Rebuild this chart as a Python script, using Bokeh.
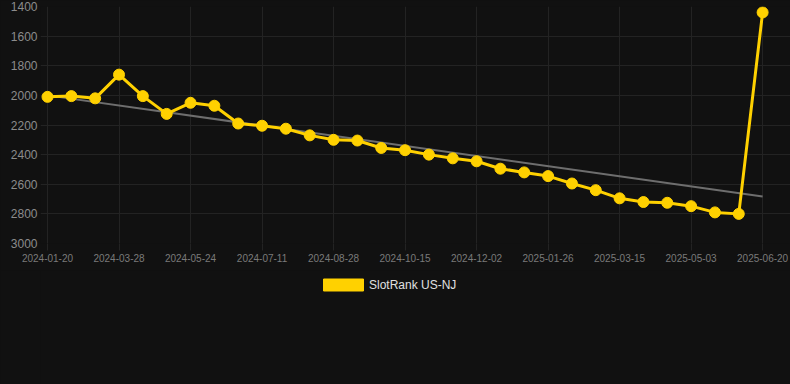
from bokeh.plotting import figure
from bokeh.layouts import column
from bokeh.models import (ColumnDataSource, Range1d, FixedTicker, Legend, LegendItem)
from bokeh.embed import file_html
from bokeh.resources import INLINE

# ---- data ----
tick_dates = ["2024-01-20", "2024-03-28", "2024-05-24", "2024-07-11", "2024-08-28",
              "2024-10-15", "2024-12-02", "2025-01-26", "2025-03-15", "2025-05-03",
              "2025-06-20"]
rank_values = [2010, 2005, 2020, 1860, 2005, 2125, 2050, 2070, 2190, 2205,
               2225, 2270, 2300, 2305, 2355, 2370, 2400, 2425, 2445, 2495,
               2520, 2545, 2595, 2640, 2695, 2720, 2725, 2748, 2790, 2800,
               1440]
trend_values = [2000, 2683]
y_ticks = [1400, 1600, 1800, 2000, 2200, 2400, 2600, 2800, 3000]
series_name = "SlotRank US-NJ"

BG = "#111111"
GRID = "#232323"
YELLOW = "#FFD100"
FONT = "Liberation Sans"

n = len(rank_values)
idx = list(range(n))
step = (n - 1) // (len(tick_dates) - 1)
tick_pos = [i * step for i in range(len(tick_dates))]

p = figure(width=790, height=270, output_backend="svg", toolbar_location=None,
           x_range=Range1d(-0.294, n - 1 + 1.17), y_range=Range1d(3000, 1400),
           min_border_left=40, min_border_right=0, min_border_top=6,
           min_border_bottom=27)
p.background_fill_color = BG
p.border_fill_color = BG
p.outline_line_color = None

src = ColumnDataSource(dict(x=idx, y=rank_values))
tsrc = ColumnDataSource(dict(x=[0, n - 1], y=trend_values))

p.line("x", "y", source=tsrc, line_color="#6e6e6e", line_width=2)
p.line("x", "y", source=src, line_color=YELLOW, line_width=3)
p.scatter("x", "y", source=src, size=11, fill_color=YELLOW, line_color=YELLOW)

# axes
p.xaxis.ticker = FixedTicker(ticks=tick_pos)
p.xaxis.major_label_overrides = {pos: d for pos, d in zip(tick_pos, tick_dates)}
p.yaxis.ticker = FixedTicker(ticks=y_ticks)
for ax in (p.xaxis[0], p.yaxis[0]):
    ax.axis_line_color = None
    ax.minor_tick_line_color = None
    ax.major_label_text_font = FONT
p.xaxis.major_tick_line_color = GRID
p.xaxis.major_tick_out = 7
p.xaxis.major_tick_in = 0
p.xaxis.major_label_standoff = 3
p.xaxis.major_label_text_font_size = "10px"
p.xaxis.major_label_text_color = "#7a7a7a"
p.yaxis.major_tick_line_color = None
p.yaxis.major_tick_out = 0
p.yaxis.major_tick_in = 0
p.yaxis.major_label_standoff = 3
p.yaxis.major_label_text_font_size = "12px"
p.yaxis.major_label_text_color = "#8c8c8c"

p.xgrid.ticker = FixedTicker(ticks=tick_pos)
p.ygrid.ticker = FixedTicker(ticks=y_ticks)
p.xgrid.grid_line_color = GRID
p.ygrid.grid_line_color = GRID

# legend strip below the chart
lg = figure(width=790, height=114, output_backend="svg", toolbar_location=None,
            x_range=Range1d(0, 1), y_range=Range1d(0, 1),
            min_border_left=0, min_border_right=0, min_border_top=0,
            min_border_bottom=0)
lg.axis.visible = False
lg.grid.visible = False
lg.background_fill_color = BG
lg.border_fill_color = BG
lg.outline_line_color = None

nan = float("nan")
dummy = lg.quad(left=[nan], right=[nan], top=[nan], bottom=[nan],
                fill_color=YELLOW, line_color=YELLOW)

legend = Legend(items=[LegendItem(label=series_name, renderers=[dummy])],
                location=(272, 86), orientation="horizontal",
                background_fill_alpha=0, border_line_alpha=0,
                label_text_color="#e0e0e0", label_text_font=FONT,
                label_text_font_size="12px", glyph_width=50, glyph_height=15,
                label_standoff=1, padding=6, margin=0)
lg.add_layout(legend)

layout = column(p, lg, spacing=0)
layout.styles = {"background-color": BG}

open("out.html", "w").write(file_html(layout, INLINE))
